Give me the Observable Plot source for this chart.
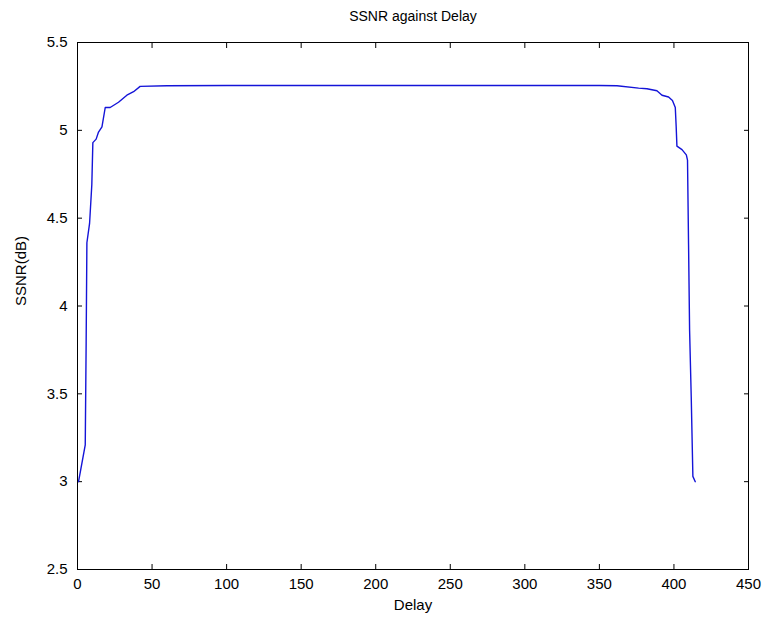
<!DOCTYPE html>
<html>
<head>
<meta charset="utf-8">
<script src="https://cdn.jsdelivr.net/npm/d3@7"></script>
<script src="https://cdn.jsdelivr.net/npm/@observablehq/plot@0.6"></script>
<style>
  html, body { margin: 0; padding: 0; background: #fff; }
  svg { display: block; }
</style>
</head>
<body>
<div id="chart"></div>
<script>
const title = "SSNR against Delay";
const xLabel = "Delay";
const yLabel = "SSNR(dB)";
const xTicks = [0, 50, 100, 150, 200, 250, 300, 350, 400, 450];
const yTicks = [2.5, 3, 3.5, 4, 4.5, 5, 5.5];

const delay = [0.7, 5.2, 5.8, 6.3, 8.1, 9.6, 10.3, 12.5, 14.1, 16.4, 18.6, 21.9, 27.5, 33.1, 37.6, 42, 60,
  100, 150, 200, 250, 300, 350, 361.8, 376.3, 381.9, 388.6, 392, 396.4, 399, 400.9, 401.5, 402,
  405.4, 408.3, 409.1, 409.8, 410.5, 411.6, 412.7, 414.3];
const ssnr = [3.0, 3.21, 3.79, 4.36, 4.47, 4.69, 4.93, 4.95, 4.99, 5.02, 5.13, 5.13, 5.16, 5.20, 5.22, 5.25, 5.254,
  5.255, 5.255, 5.255, 5.255, 5.255, 5.255, 5.254, 5.24, 5.237, 5.225, 5.20, 5.19, 5.17, 5.13, 5.02, 4.91,
  4.89, 4.86, 4.83, 4.35, 3.86, 3.48, 3.03, 3.0];

const data = delay.map((d, i) => ({delay: d, ssnr: ssnr[i]}));
const fmt = d => String(d);
const font = "Liberation Sans, Arial, sans-serif";

const chart = Plot.plot({
  width: 765,
  height: 628,
  marginLeft: 77,
  marginRight: 17,
  marginTop: 42,
  marginBottom: 59,
  style: {fontFamily: font, fontSize: "15px", color: "#000", background: "#fff"},
  x: {domain: [0, 450], ticks: xTicks},
  y: {domain: [2.5, 5.5], ticks: yTicks},
  marks: [
    Plot.frame({stroke: "#000", strokeWidth: 1}),
    Plot.axisX({ticks: xTicks, tickSize: -5, tickPadding: 14, tickFormat: fmt, label: null, fontSize: 15}),
    Plot.axisX({anchor: "top", ticks: xTicks, tickSize: -5, tickFormat: () => "", label: null}),
    Plot.axisY({ticks: yTicks, tickSize: -5, tickPadding: 15, tickFormat: fmt, label: null, fontSize: 15}),
    Plot.axisY({anchor: "right", ticks: yTicks, tickSize: -5, tickFormat: () => "", label: null}),
    Plot.line(data, {x: "delay", y: "ssnr", stroke: "#1414d8", strokeWidth: 1.4}),
    Plot.text([title], {frameAnchor: "top", dy: -31, fontSize: 14, fill: "#000"}),
    Plot.text([xLabel], {frameAnchor: "bottom", dy: 40, fontSize: 15, fill: "#000"}),
    Plot.text([yLabel], {frameAnchor: "left", dx: -56, rotate: -90, fontSize: 15, fill: "#000"})
  ]
});
document.getElementById("chart").appendChild(chart);
</script>
</body>
</html>
